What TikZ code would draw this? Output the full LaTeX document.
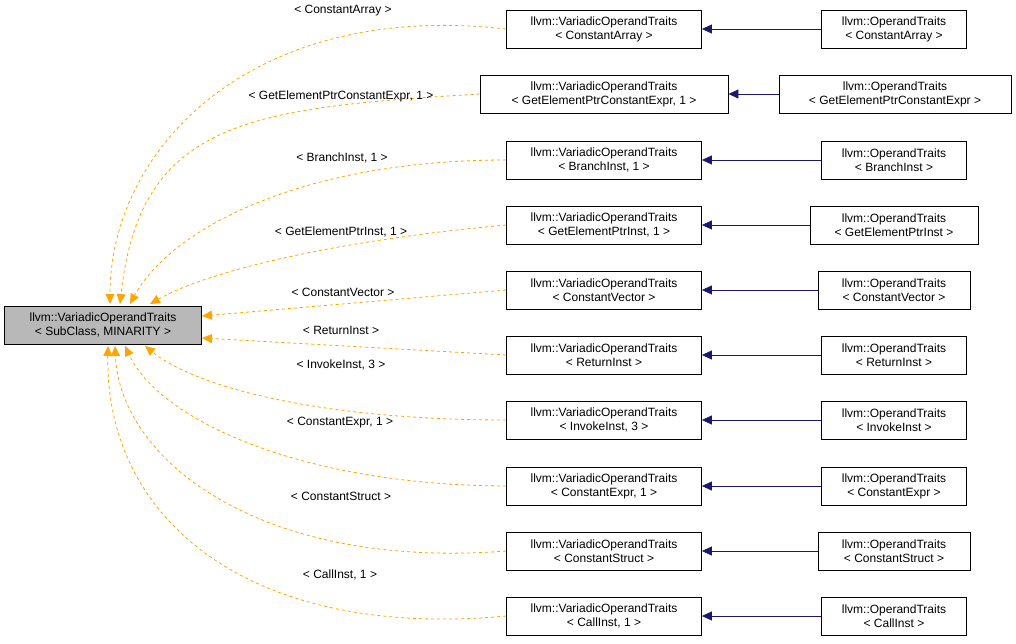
\documentclass[tikz,border=0pt]{standalone}
\usepackage{fontspec}
\setmainfont{Liberation Sans}
\usetikzlibrary{arrows.meta}
\definecolor{edgeorange}{HTML}{FFA500}
\definecolor{edgenavy}{HTML}{191970}
\begin{document}
\begin{tikzpicture}[x=1pt,y=-1pt,font=\fontsize{12}{14}\selectfont,line width=0.8pt,
    cls/.style={draw,fill=white,align=center,inner sep=2pt,minimum height=38pt},
    inherit/.style={draw=edgeorange,dashed,-{Triangle[fill=edgeorange,length=10pt,width=9pt]}},
    tmpl/.style={draw=edgenavy,-{Triangle[fill=edgenavy,length=10pt,width=9pt]}},
    lbl/.style={inner sep=1pt}]
  \useasboundingbox (0,0) rectangle (1016,643);
  % base class
  \node[cls,fill=black!28,minimum width=197pt] (base) at (103,325) {llvm::VariadicOperandTraits\\ < SubClass, MINARITY >};
  % instances and their children
  \foreach \i/\y/\arg/\mw/\rarg/\rx/\rw in {
      1/29/ConstantArray/195/ConstantArray/894/145,
      2/94/{GetElementPtrConstantExpr, 1}/248/GetElementPtrConstantExpr/895/232,
      3/160/{BranchInst, 1}/195/BranchInst/894/145,
      4/225/{GetElementPtrInst, 1}/195/GetElementPtrInst/894/168,
      5/290/ConstantVector/195/ConstantVector/894/152,
      6/355/ReturnInst/195/ReturnInst/894/145,
      7/420/{InvokeInst, 3}/195/InvokeInst/894/145,
      8/486/{ConstantExpr, 1}/195/ConstantExpr/894/145,
      9/551/ConstantStruct/195/ConstantStruct/894/152,
      10/616/{CallInst, 1}/195/CallInst/894/145} {
    \node[cls,minimum width=\mw pt] (mid\i) at (604,\y) {llvm::VariadicOperandTraits\\ < \arg\ >};
    \node[cls,minimum width=\rw pt] (op\i) at (\rx,\y) {llvm::OperandTraits\\ < \rarg\ >};
    \draw[tmpl] (op\i) -- (mid\i);
  }
  % template instantiation edges
  \draw[inherit] (mid1.west) .. controls (250,0) and (110,150) .. (110,304);
  \draw[inherit] (mid2.west) .. controls (250,108) and (140,120) .. (120,304);
  \draw[inherit] (mid3.west) .. controls (300,160) and (170,230) .. (130,304);
  \draw[inherit] (mid4.west) .. controls (340,240) and (210,270) .. (150,304);
  \draw[inherit] (mid5.west) -- (202,316);
  \draw[inherit] (mid6.west) -- (202,338);
  \draw[inherit] (mid7.west) .. controls (330,420) and (200,390) .. (145,346);
  \draw[inherit] (mid8.west) .. controls (300,485) and (160,420) .. (125,346);
  \draw[inherit] (mid9.west) .. controls (260,570) and (120,460) .. (115,346);
  \draw[inherit] (mid10.west) .. controls (250,640) and (105,520) .. (108,346);
  % labels
  \node[lbl] (l1) at (343,11) {< ConstantArray >};
  \node[lbl] (l2) at (341,96) {< GetElementPtrConstantExpr, 1 >};
  \node[lbl] (l3) at (342,158) {< BranchInst, 1 >};
  \node[lbl] (l4) at (341,232) {< GetElementPtrInst, 1 >};
  \node[lbl] (l5) at (343,292) {< ConstantVector >};
  \node[lbl] (l6) at (341,330) {< ReturnInst >};
  \node[lbl] (l7) at (341,365) {< InvokeInst, 3 >};
  \node[lbl] (l8) at (340,423) {< ConstantExpr, 1 >};
  \node[lbl] (l9) at (341,496) {< ConstantStruct >};
  \node[lbl] (l10) at (340,575) {< CallInst, 1 >};
\end{tikzpicture}
\end{document}
